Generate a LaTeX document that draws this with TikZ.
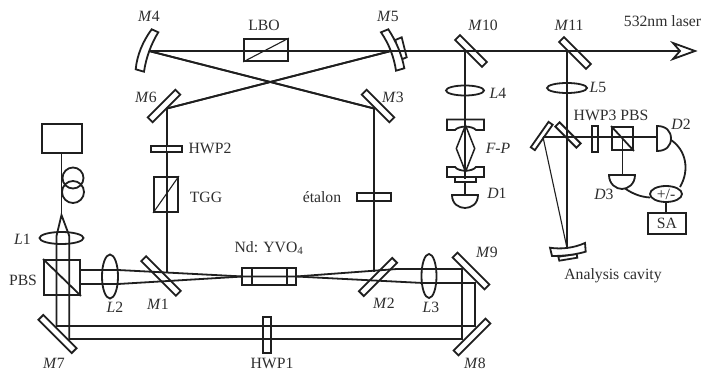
\documentclass[tikz,border=0pt]{standalone}
\usepackage{fontspec}
\setmainfont{Liberation Serif}
\usetikzlibrary{shapes.geometric}
\newcommand{\iL}[2]{\textit{#1}#2}
\begin{document}
\begin{tikzpicture}[x=1pt,y=-1pt,line join=miter,
  ink/.style={draw=black!88,line width=1.8pt},
  fine/.style={draw=black!88,line width=1.1pt},
  mir/.style={ink,fill=white,rectangle,inner sep=0pt,minimum width=#1,minimum height=7pt},
  mir/.default=48pt,
  box/.style={ink,rectangle,inner sep=0pt},
  lens/.style={ink,ellipse,inner sep=0pt},
  lab/.style={font=\fontsize{15.7}{17}\selectfont,text=black!82,inner sep=0pt}]
\useasboundingbox (0,0) rectangle (702,374);
\fill[white] (0,0) rectangle (702,374);
% ---- named points on beams
\coordinate (apex) at (61.5,215);
\coordinate (a1) at (56.5,236); \coordinate (a2) at (69.3,236);
\coordinate (m7a) at (56.5,326); \coordinate (m7b) at (69.3,339);
\coordinate (m8a) at (475,326); \coordinate (m8b) at (462,339);
\coordinate (m9a) at (462,269); \coordinate (m9b) at (475,283);
\coordinate (l3a) at (397,269); \coordinate (l3b) at (423,283);
\coordinate (cl) at (243,276.5); \coordinate (cr) at (296,276.5);
\coordinate (l2a) at (118,270); \coordinate (l2b) at (118,284);
\coordinate (p1) at (80,270); \coordinate (p2) at (80,284);
\coordinate (v6) at (167,108.5); \coordinate (v1) at (167,273);
\coordinate (v3) at (374,108.5); \coordinate (v2) at (374,272);
\coordinate (h4) at (149,51); \coordinate (h5) at (391,51);
\coordinate (tip) at (695,51); \coordinate (notch) at (680,51);
\coordinate (t10) at (465,51); \coordinate (t11) at (567,51);
\coordinate (b11) at (567,248);
\coordinate (ma) at (543,137); \coordinate (d2f) at (657,137);
\coordinate (pc) at (622.5,137); \coordinate (d3f) at (622.5,175);
\coordinate (d1f) at (465,195);
% ---- mirrors (drawn first, beams lie over them)
\node[mir=47pt,rotate=-45] (M7) at (57.5,334) {};
\node[mir=49pt,rotate=-45] (M1) at (161,276) {};
\node[mir=47pt,rotate=45] (M2) at (378,277) {};
\node[mir=45pt,rotate=-45] (M9) at (471,271) {};
\node[mir=45pt,rotate=45] (M8) at (472,337) {};
\node[mir=39pt,rotate=45] (M6) at (164,106) {};
\node[mir=39pt,rotate=-45] (M3) at (378,106) {};
\node[mir=38pt,rotate=-45] (M10) at (471,51) {};
\node[mir=38pt,rotate=-45] (M11) at (575,53) {};
\node[mir=31pt,minimum height=5pt,rotate=55] (Ma) at (541.7,136) {};
\node[mir=30pt,minimum height=6pt,rotate=-45] (Mb) at (568,135) {};
% ---- beams
\draw[ink] (a1) -- (apex) -- (a2);
\draw[ink] (apex) -- (61.5,153);
\draw[ink] (a1) -- (m7a) -- (m8a) -- (m9b) -- (l3b) -- (cr) -- (cl) -- (l2b) -- (p2);
\draw[ink] (a2) -- (m7b) -- (m8b) -- (m9a) -- (l3a) -- (cr);
\draw[ink] (cl) -- (l2a) -- (p1);
\draw[ink] (v1) -- (v6) -- (h5) -- (h4) -- (v3) -- (v2);
\draw[ink] (t10) -- (d1f);
\draw[ink] (t11) -- (b11);
\draw[ink] (ma) -- (d2f);
\draw[ink] (pc) -- (d3f);
% ---- arrow head
\draw[ink] (673,43) -- (tip) -- (673,59) -- (notch) -- cycle;
% ---- source and fibre
\node[box,minimum width=40pt,minimum height=29pt] (src) at (62,138.5) {};
\draw[ink] (73,178) circle[radius=10.5];
\draw[ink] (73,192) circle[radius=11];
\node[box,minimum width=36pt,minimum height=35pt] (pbs1) at (62,277.5) {};
\draw[ink] (pbs1.north west) -- (pbs1.south east);
% ---- lenses
\node[lens,minimum width=44pt,minimum height=12pt] (L1) at (61.5,238) {};
\node[lens,minimum width=16pt,minimum height=44pt] (L2) at (110,276.5) {};
\node[lens,minimum width=15pt,minimum height=44pt] (L3) at (429,276) {};
\node[lens,minimum width=38pt,minimum height=10pt] (L4) at (465,90.5) {};
\node[lens,minimum width=40pt,minimum height=10pt] (L5) at (567,88) {};
% ---- cavity elements
\node[box,minimum width=54pt,minimum height=17pt] (crystal) at (269,276.5) {};
\draw[ink] (252,268) -- (252,285) (287,268) -- (287,285);
\node[box,fill=white,minimum width=44pt,minimum height=22pt] (lbo) at (266,50) {};
\draw[ink] (244,51) -- (288,51);
\draw[fine] (lbo.south west) -- (lbo.north east);
\node[box,fill=white,minimum width=31pt,minimum height=6pt] (hwp2) at (166.5,149) {};
\draw[ink] (166.5,146) -- (166.5,152);
\node[box,fill=white,minimum width=24pt,minimum height=35pt] (tgg) at (166,194.5) {};
\draw[ink] (167,177) -- (167,212);
\draw[fine] (tgg.south west) -- (tgg.north east);
\node[box,fill=white,minimum width=34pt,minimum height=8pt] (etalon) at (374,197) {};
\draw[ink] (374,193) -- (374,201);
\node[box,fill=white,minimum width=8pt,minimum height=36pt] (hwp1) at (267,335) {};
\draw[ink] (263,326) -- (271,326) (263,339) -- (271,339);
% ---- curved mirrors
\draw[ink,fill=white] (151.7,29.3) -- (158.3,32.3) .. controls (151,44) and (146,58) .. (144,71.7) -- (135.7,69.3) .. controls (137,55) and (143,41) .. (151.7,29.3) -- cycle;
\draw[ink,fill=white] (395.3,40) -- (401.7,37.3) -- (406.7,57.3) -- (400,60) -- cycle;
\draw[ink,fill=white] (381,32.3) -- (388.3,29.3) .. controls (396,41) and (402,55) .. (404.3,68.3) -- (396,70.7) .. controls (394,57) and (389,44) .. (381,32.3) -- cycle;
\draw[ink] (h4) -- (h5);
\draw[ink] (h5) -- (notch);
\draw[ink] (h5) -- (v6) (h4) -- (v3);
% ---- F-P
\draw[ink,fill=white] (447,119.5) -- (484,119.5) -- (484,130) -- (476,130) .. controls (472,125.5) and (459,125.5) .. (455,130) -- (447,130) -- cycle;
\draw[ink,fill=white] (447,177) -- (484,177) -- (484,167) -- (476,167) .. controls (472,172) and (459,172) .. (455,167) -- (447,167) -- cycle;
\node[box,fill=white,minimum width=21pt,minimum height=5pt] (fpp) at (465.5,179.5) {};
\draw[ink] (465,120) -- (465,179);
\node[draw=black!88,line width=1.5pt,diamond,aspect=0.42,inner sep=0pt,minimum width=19pt,minimum height=47pt] (fpd) at (465.5,148.5) {};
% ---- detectors
\draw[ink,fill=white] (452,195) -- (478,195) .. controls (478,204) and (471,208) .. (465,208) .. controls (459,208) and (452,204) .. (452,195) -- cycle;
\draw[ink,fill=white] (609,175) -- (635,175) .. controls (635,184) and (628,189) .. (622,189) .. controls (616,189) and (609,184) .. (609,175) -- cycle;
\draw[ink,fill=white] (657,126) .. controls (666,126) and (671,131) .. (671,138.5) .. controls (671,146) and (666,151) .. (657,151) -- cycle;
% ---- analysis cavity
\draw[ink,fill=white] (558.3,256.7) -- (576.7,254) -- (577.3,257.7) -- (559.3,260.7) -- cycle;
\draw[ink,fill=white] (550,247.7) .. controls (561,249.5) and (574,248) .. (585,243) -- (585.7,251.7) .. controls (574,255) and (563,256) .. (552,256) -- cycle;
\draw[fine] (ma) -- (b11);
\draw[ink] (t11) -- (b11);
\node[box,fill=white,minimum width=6pt,minimum height=26pt] (hwp3) at (595,139) {};
\draw[ink] (592,137) -- (598,137);
\node[box,minimum width=21pt,minimum height=23pt] (pbs2) at (622.5,138.5) {};
\draw[ink] (pbs2.north west) -- (pbs2.south east);
\node[lens,fill=white,minimum width=32pt,minimum height=16pt] (sum) at (666,194) {};
\node[lab] at (sum.center) {+/-};
\node[box,minimum width=38pt,minimum height=21pt] (SA) at (667,223.5) {};
\node[lab] at (SA.center) {SA};
\draw[ink] (sum) -- (666,213);
\draw[ink] (671,140) .. controls (686,150) and (690,170) .. (680,187);
\draw[ink] (625,188.5) .. controls (633,194) and (641,197) .. (650,197.5);
% ---- labels
\node[lab] at (149,16) {\iL{M}{4}};
\node[lab] at (388,16) {\iL{M}{5}};
\node[lab] at (264,25) {LBO};
\node[lab] at (146,97) {\iL{M}{6}};
\node[lab] at (393,97) {\iL{M}{3}};
\node[lab] at (483,25) {\iL{M}{10}};
\node[lab] at (569,25) {\iL{M}{11}};
\node[lab] at (662.5,21) {532nm laser};
\node[lab] at (210,148) {HWP2};
\node[lab] at (206,197) {TGG};
\node[lab] at (322,197) {étalon};
\node[lab] at (269,248) {Nd: YVO\textsubscript{4}};
\node[lab] at (272,363) {HWP1};
\node[lab] at (22.5,239) {\iL{L}{1}};
\node[lab] at (23,280) {PBS};
\node[lab] at (115,307) {\iL{L}{2}};
\node[lab] at (158,304) {\iL{M}{1}};
\node[lab] at (54,363) {\iL{M}{7}};
\node[lab] at (384,303) {\iL{M}{2}};
\node[lab] at (431,307) {\iL{L}{3}};
\node[lab] at (487,252) {\iL{M}{9}};
\node[lab] at (475,363) {\iL{M}{8}};
\node[lab] at (498,93) {\iL{L}{4}};
\node[lab] at (598,87) {\iL{L}{5}};
\node[lab] at (498,148) {\textit{F-P}};
\node[lab] at (497,193) {\iL{D}{1}};
\node[lab] at (611,115) {HWP3 PBS};
\node[lab] at (681,124) {\iL{D}{2}};
\node[lab] at (604,194) {\iL{D}{3}};
\node[lab] at (613,276) {Analysis cavity};
\end{tikzpicture}
\end{document}
